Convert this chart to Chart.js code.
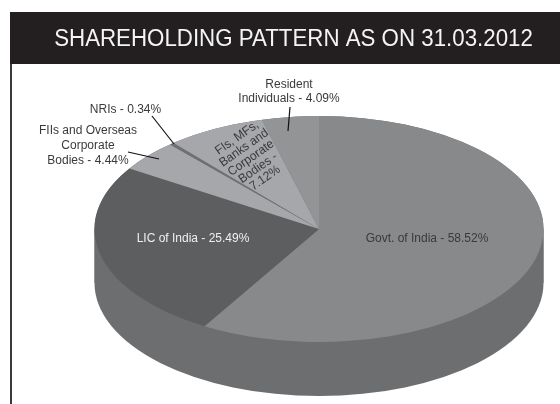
<!DOCTYPE html>
<html><head><meta charset="utf-8">
<style>html,body{margin:0;padding:0;background:#fff}#w{width:560px;height:404px;position:relative}</style>
<script src="https://cdn.jsdelivr.net/npm/chart.js@4"></script></head>
<body><div id="w"><canvas id="c" width="560" height="404"></canvas></div>
<script>
const categories = ["Govt. of India","LIC of India","FIIs and Overseas Corporate Bodies","NRIs","FIs, MFs, Banks and Corporate Bodies","Resident Individuals"];
const shares = [58.52,25.49,4.44,0.34,7.12,4.09];
const sliceColors = ["#88898b","#5d5e60","#a6a7aa","#6f7072","#a6a7aa","#939496"];
const titleText = "SHAREHOLDING PATTERN AS ON 31.03.2012";
const labelLines = [
  ["Govt. of India - 58.52%"],
  ["LIC of India - 25.49%"],
  ["FIIs and Overseas","Corporate","Bodies - 4.44%"],
  ["NRIs - 0.34%"],
  ["FIs, MFs,","Banks and","Corporate","Bodies -","7.12%"],
  ["Resident","Individuals - 4.09%"]
];
const labelAnchors = [[427,239],[193,239],[88,145.5],[125.5,110],[251,158],[289,91.5]];
const labelRotation = [0,0,0,0,-35,0];
const labelColors = ["#3a3a3c","#f0f0f0","#3a3a3c","#3a3a3c","#3a3a3c","#3a3a3c"];
const leaders = [[[152,116],[174,144]],[[128,152],[159,159]],[[290,107],[288,131]]];
const yScale = 113/224.5, wallDepth = 54, wallColor = "#6d6e70";

const decor = {
  id:'decor',
  beforeDraw(chart){
    const c=chart.ctx;
    c.save();
    c.fillStyle='#fff';c.fillRect(0,0,560,404);
    c.fillStyle='#231f20';c.fillRect(10,12,550,52);
    c.fillStyle='#3a3a3a';c.fillRect(10,64,2,340);
    c.restore();
  },
  beforeDatasetsDraw(chart){
    const a=chart.getDatasetMeta(0).data[0], c=chart.ctx, ry=a.outerRadius*yScale;
    c.save();
    c.fillStyle=wallColor;
    c.beginPath();
    c.ellipse(a.x,a.y,a.outerRadius,ry,0,Math.PI,0,false);
    c.lineTo(a.x+a.outerRadius,a.y+wallDepth);
    c.ellipse(a.x,a.y+wallDepth,a.outerRadius,ry,0,0,Math.PI,false);
    c.closePath();c.fill();
    c.beginPath();
    c.rect(a.x-a.outerRadius,a.y,a.outerRadius*2,wallDepth);c.fill();
    c.restore();
    c.save();
    c.translate(a.x,a.y);c.scale(1,yScale);c.translate(-a.x,-a.y);
  },
  afterDatasetsDraw(chart){
    const c=chart.ctx;
    c.restore();
    c.save();
    c.strokeStyle='#111';c.lineWidth=1.2;
    leaders.forEach(l=>{c.beginPath();c.moveTo(l[0][0],l[0][1]);c.lineTo(l[1][0],l[1][1]);c.stroke();});
    c.font='12.5px "Liberation Sans"';c.textAlign='center';c.textBaseline='middle';
    labelLines.forEach((lines,i)=>{
      c.save();
      c.translate(labelAnchors[i][0],labelAnchors[i][1]);
      c.rotate(labelRotation[i]*Math.PI/180);
      c.scale(0.96,1);
      c.fillStyle=labelColors[i];
      const lh=i===4?12.3:14.6;
      lines.forEach((t,j)=>c.fillText(t,0,(j-(lines.length-1)/2)*lh));
      c.restore();
    });
    c.translate(293.5,39.5);
    c.scale(0.91,1);
    c.font='24.5px "Liberation Sans"';c.fillStyle='#f4f4f4';c.textAlign='center';
    c.fillText(titleText,0,0);
    c.restore();
  }
};

new Chart(document.getElementById('c'),{
  type:'pie',
  data:{labels:categories,datasets:[{data:shares,backgroundColor:sliceColors,borderWidth:0}]},
  options:{
    responsive:false,animation:false,
    radius:224.5,
    layout:{padding:{left:78,top:54}},
    plugins:{legend:{display:false},tooltip:{enabled:false},title:{display:false}}
  },
  plugins:[decor]
});
</script></body></html>
